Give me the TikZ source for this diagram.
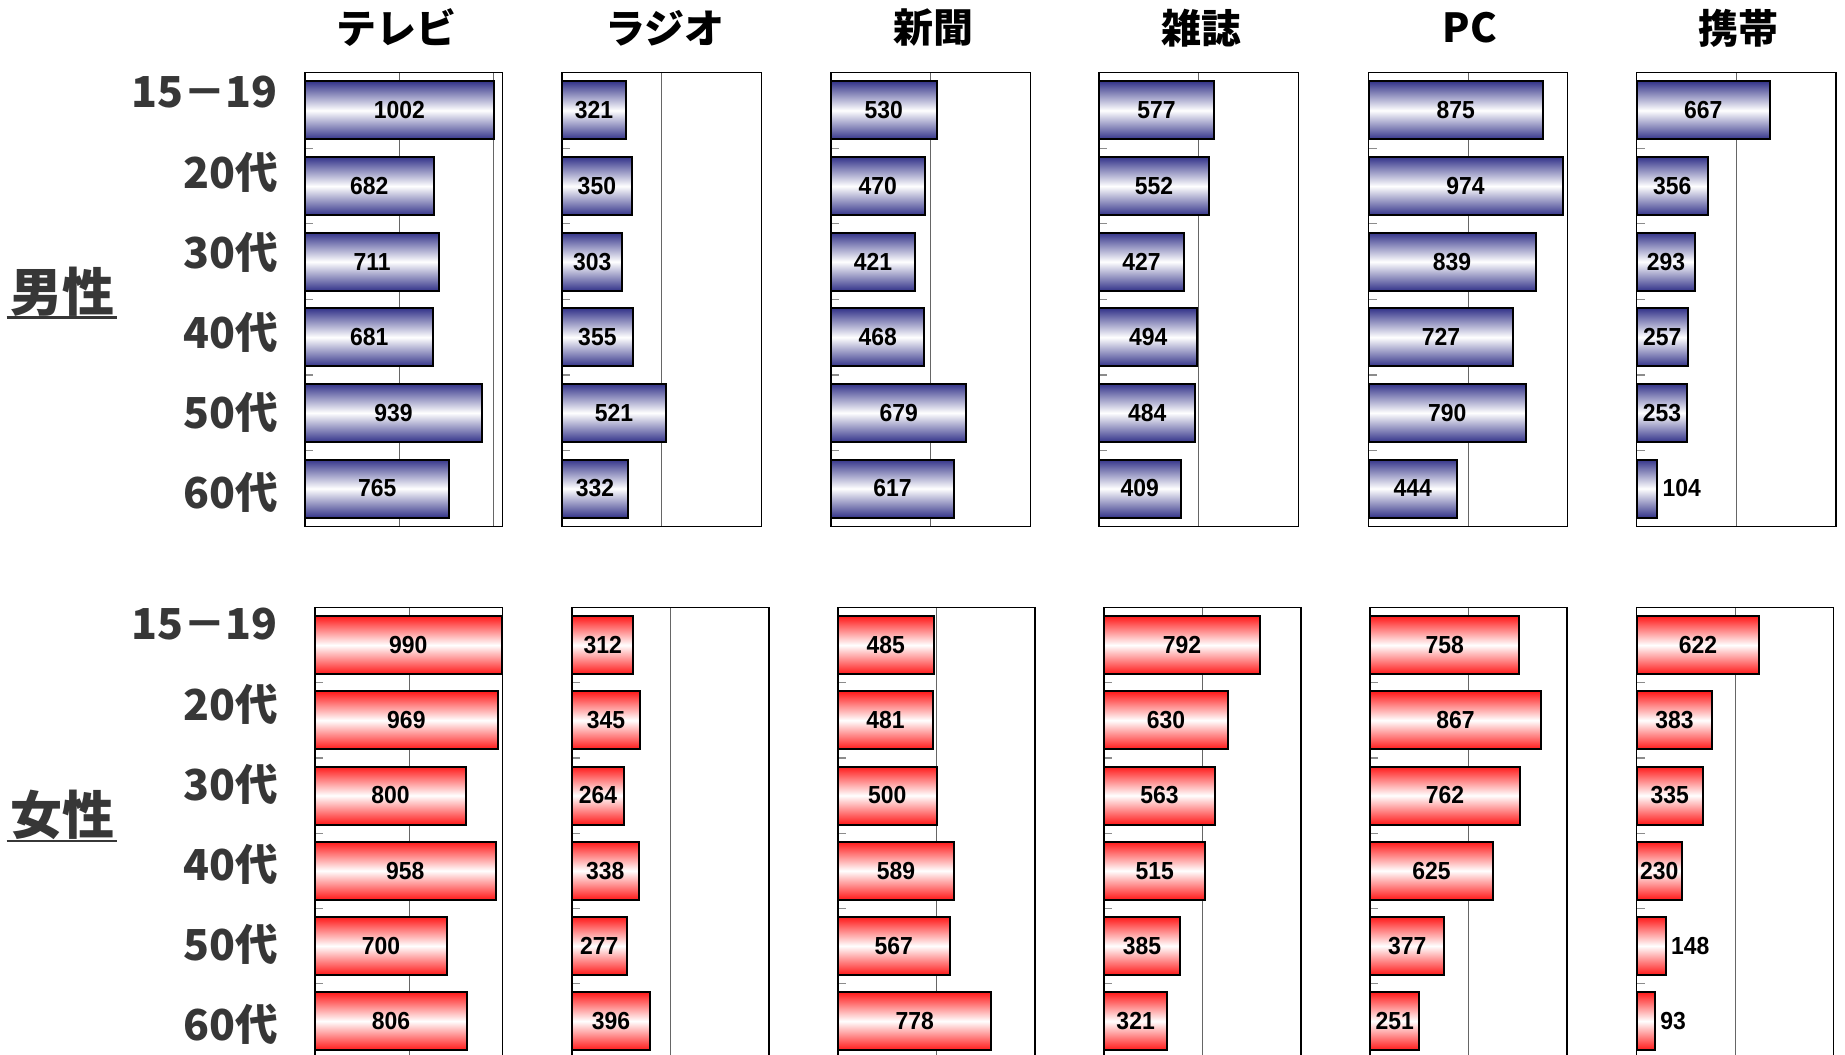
\documentclass[tikz,border=0pt]{standalone}
\usepackage{fontspec}
\setmainfont{Noto Sans CJK JP}
\newfontfamily\numfont[FakeStretch=0.93]{Liberation Sans}
\definecolor{navy}{RGB}{52,52,138}
\definecolor{redbar}{RGB}{255,25,25}
\definecolor{txtgrey}{RGB}{55,55,55}
\tikzset{
  frame/.style={draw=black, line width=0.9pt},
  gridln/.style={draw=black!60, line width=0.6pt},
  tickln/.style={draw=black!45, line width=0.9pt},
  mbar/.style={draw=black, line width=1.5pt, top color=navy, bottom color=navy, middle color=white},
  fbar/.style={draw=black, line width=1.5pt, top color=redbar, bottom color=redbar, middle color=white},
  val/.style={font=\numfont\bfseries\fontsize{18.5}{18.5}\selectfont, inner sep=0pt},
  age/.style={font=\bfseries\fontsize{32}{32}\selectfont, text=txtgrey, anchor=east, inner sep=0pt},
  ttl/.style={font=\bfseries\fontsize{30}{30}\selectfont, inner sep=0pt},
  gender/.style={font=\bfseries\fontsize{39}{39}\selectfont, text=txtgrey, inner sep=0pt},
  uline/.style={draw=txtgrey, line width=2pt}
}
% #1 name, #2 left, #3 top, #4 category height, #5 px per unit, #6 frame width, #7 bar style, #8 values
\newcommand{\barchart}[8]{%
  \pgfmathsetmacro\cbot{#3+6*#4}%
  \pgfmathsetmacro\xg{#2+500*#5}%
  \draw[gridln] (\xg,#3) -- (\xg,\cbot);
  \foreach \v [count=\i] in {#8} {
    \pgfmathsetmacro\yc{#3+(\i-0.5)*#4}
    \pgfmathsetmacro\xe{#2+\v*#5}
    \draw[tickln] (#2,{#3+\i*#4}) -- ++(8,0);
    \path[#7] (#2,\yc-29) rectangle (\xe,\yc+29);
    \pgfmathparse{\v<200 ? 1 : 0}
    \ifnum\pgfmathresult=1
      \node[val, anchor=west] (#1-\i) at (\xe+5,\yc) {\v};
    \else
      \node[val] (#1-\i) at ({(#2+\xe)/2},\yc) {\v};
    \fi
  }
  \draw[frame] (#2,#3) rectangle ({#2+#6},\cbot);
}
\begin{document}
\begin{tikzpicture}[x=0.75pt,y=-0.75pt]
\useasboundingbox (0,0) rectangle (1845,1055);
\clip (0,0) rectangle (1845,1055);
\fill[white] (0,0) rectangle (1845,1055);

% titles
\node[ttl] (t1) at (396,28) {テレビ};
\node[ttl] (t2) at (665,28) {ラジオ};
\node[ttl] (t3) at (933,28) {新聞};
\node[ttl] (t4) at (1201,28) {雑誌};
\node[ttl] (t5) at (1470,28) {PC};
\node[ttl] (t6) at (1738,28) {携帯};

% gender labels
\node[gender] (gm) at (62,291.5) {男性};
\draw[uline] ([shift={(-3,26)}]gm.west) -- ([shift={(3,26)}]gm.east);
\node[gender] (gf) at (62,815) {女性};
\draw[uline] ([shift={(-3,26)}]gf.west) -- ([shift={(3,26)}]gf.east);

% age labels
\foreach \lab [count=\i] in {15－19,20代,30代,40代,50代,60代} {
  \node[age] (am-\i) at (278,{92+(\i-1)*80}) {\lab};
  \node[age] (af-\i) at (278,{624+(\i-1)*80}) {\lab};
}

% male charts
\draw[gridln] (493.6,72.7) -- (493.6,526.3);
\barchart{mtv}{305}{72.7}{75.6}{0.1886}{197.7}{mbar}{1002,682,711,681,939,765}
\barchart{mra}{562}{72.7}{75.6}{0.1993}{199.3}{mbar}{321,350,303,355,521,332}
\barchart{mnp}{831}{72.7}{75.6}{0.1993}{199.3}{mbar}{530,470,421,468,679,617}
\barchart{mmg}{1099}{72.7}{75.6}{0.1993}{199.3}{mbar}{577,552,427,494,484,409}
\barchart{mpc}{1368.5}{72.7}{75.6}{0.1993}{199.3}{mbar}{875,974,839,727,790,444}
\barchart{mmb}{1636.7}{72.7}{75.6}{0.1993}{199.3}{mbar}{667,356,293,257,253,104}

% female charts
\barchart{ftv}{315}{607.5}{75.2}{0.1886}{187.7}{fbar}{990,969,800,958,700,806}
\barchart{fra}{572}{607.5}{75.2}{0.197}{197}{fbar}{312,345,264,338,277,396}
\barchart{fnp}{838}{607.5}{75.2}{0.197}{197}{fbar}{485,481,500,589,567,778}
\barchart{fmg}{1104}{607.5}{75.2}{0.197}{197}{fbar}{792,630,563,515,385,321}
\barchart{fpc}{1370}{607.5}{75.2}{0.197}{197}{fbar}{758,867,762,625,377,251}
\barchart{fmb}{1636.7}{607.5}{75.2}{0.197}{197}{fbar}{622,383,335,230,148,93}
\end{tikzpicture}
\end{document}
